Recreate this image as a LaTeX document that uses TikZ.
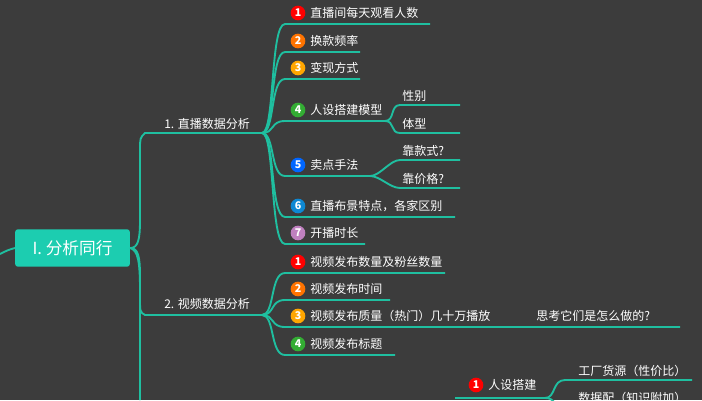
\documentclass[tikz,border=0pt]{standalone}
\usepackage{fontspec}
\setmainfont{Noto Sans CJK SC}
\begin{document}
\begin{tikzpicture}[x=0.75pt,y=-0.75pt]
  \definecolor{bgcol}{HTML}{3C3C3C}
  \definecolor{linecol}{HTML}{1FBFA0}
  \definecolor{rootcol}{HTML}{1CCDB0}
  \tikzset{RootStyle/.style = {
    shape         = rectangle,
    rounded corners = 2pt,
    fill          = rootcol,
    text          = white,
    font          = \fontsize{12.5pt}{14pt}\selectfont,
    minimum width = 86pt,
    minimum height = 28pt,
    inner sep     = 0pt
    }
  }
  \tikzset{BranchStyle/.style = {
    draw          = linecol,
    line width    = 1.4pt
    }
  }
  \tikzset{TextStyle/.style = {
    text          = white,
    font          = \fontsize{9pt}{10pt}\selectfont,
    anchor        = west,
    inner sep     = 0pt
    }
  }
  \tikzset{BadgeStyle/.style = {
    shape         = circle,
    fill          = #1,
    text          = white,
    font          = \fontsize{8pt}{9pt}\selectfont\bfseries,
    minimum size  = 11pt,
    inner sep     = 0pt
    }
  }
  \fill[bgcol] (0,0) rectangle (702,400);
  \useasboundingbox (0,0) rectangle (702,400);

  % root
  \node[RootStyle] (root) at (72.5,248) {I. 分析同行};
  \coordinate (L0) at (0,254);
  \draw[BranchStyle] (L0) .. controls (8,250) .. (root.west);

  % main branches
  \coordinate (A1) at (145,133);
  \coordinate (A2) at (262,133);
  \coordinate (B1) at (145,315);
  \coordinate (B2) at (262,315);
  \coordinate (C1) at (140,400);
  \draw[BranchStyle] (root.east) .. controls (138,248) and (140,240) .. (140,220) -- (140,150) .. controls (140,138) .. (A1) -- (A2);
  \draw[BranchStyle] (root.east) .. controls (138,248) and (140,256) .. (140,276) -- (140,298) .. controls (140,312) .. (B1) -- (B2);
  \draw[BranchStyle] (root.east) .. controls (138,250) and (140,262) .. (140,290) -- (C1);
  \node[TextStyle] (t1) at (164,124) {1. 直播数据分析};
  \node[TextStyle] (t2) at (164,304) {2. 视频数据分析};

  % children of branch 1
  \foreach \n/\y/\xe/\c/\txt in {
    1/24/430/red/直播间每天观看人数,
    2/52/360/orange!90!red/换款频率,
    3/79/360/orange!70!yellow/变现方式,
    4/121/385/green!60!black!80/人设搭建模型,
    5/176/370/blue!60!cyan/卖点手法,
    6/217/455/cyan!70!blue/{直播布景特点，各家区别},
    7/244/365/violet!50/开播时长}{
    \coordinate (s\n) at (285,\y);
    \coordinate (e\n) at (\xe,\y);
    \draw[BranchStyle] (A2) .. controls (275,133) and (270,\y) .. (s\n) -- (e\n);
    \node[BadgeStyle=\c] (b\n) at (298,\y-11) {\n};
    \node[TextStyle] (c\n) at (310,\y-11) {\txt};
  }

  % grandchildren of item 4 and 5
  \foreach \p/\n/\y/\xe/\txt in {4/g1/105/460/性别, 4/g2/133/460/体型,
    5/g3/160/460/靠款式?, 5/g4/188/460/靠价格?}{
    \coordinate (\n s) at (400,\y);
    \coordinate (\n e) at (\xe,\y);
    \draw[BranchStyle] (e\p) .. controls +(10,0) and (390,\y) .. (\n s) -- (\n e);
    \node[TextStyle] (\n) at (402,\y-9) {\txt};
  }

  % children of branch 2
  \foreach \n/\y/\xe/\c/\txt in {
    1/273/445/red/视频发布数量及粉丝数量,
    2/300/390/orange!90!red/视频发布时间,
    3/327/680/orange!70!yellow/视频发布质量（热门）几十万播放,
    4/355/395/green!60!black!80/视频发布标题}{
    \coordinate (v\n) at (285,\y);
    \coordinate (w\n) at (\xe,\y);
    \draw[BranchStyle] (B2) .. controls (275,315) and (270,\y) .. (v\n) -- (w\n);
    \node[BadgeStyle=\c] (vb\n) at (298,\y-11) {\n};
    \node[TextStyle] (vc\n) at (310,\y-11) {\txt};
  }
  \node[TextStyle] (q1) at (536,316) {思考它们是怎么做的?};

  % branch 3 (partly shown)
  \coordinate (P0) at (455,398);
  \coordinate (P1) at (545,398);
  \coordinate (Q1) at (565,380);
  \coordinate (Q2) at (692,380);
  \coordinate (Q3) at (565,406);
  \coordinate (Q4) at (692,406);
  \draw[BranchStyle] (P0) -- (P1) .. controls (556,398) and (552,380) .. (Q1) -- (Q2);
  \draw[BranchStyle] (P1) .. controls (556,398) and (552,406) .. (Q3) -- (Q4);
  \node[BadgeStyle=red] (pb1) at (476,385) {1};
  \node[TextStyle] (pc1) at (488,385) {人设搭建};
  \node[TextStyle] (qc1) at (578,371) {工厂货源（性价比）};
  \node[TextStyle] (qc2) at (578,398) {数据配（知识附加）};
\end{tikzpicture}
\end{document}
